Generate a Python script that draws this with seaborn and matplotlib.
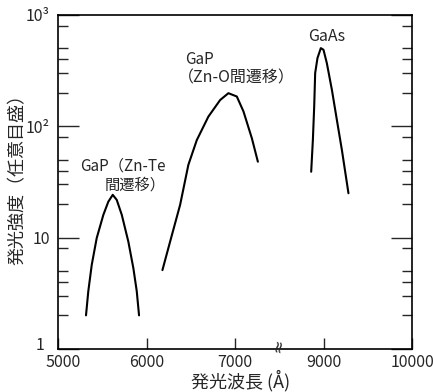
import numpy as np
import pandas as pd
import matplotlib
matplotlib.use('Agg')
import matplotlib.pyplot as plt
import matplotlib.transforms as mtransforms
from matplotlib.ticker import LogLocator, NullFormatter
import seaborn as sns

# Emission spectra: wavelength (Angstrom), intensity (arb. units)
znte_wl = [5316, 5342, 5381, 5437, 5512, 5568, 5618, 5663, 5720, 5794, 5851, 5889, 5915]
znte_int = [2.0, 3.3, 5.7, 9.9, 16.0, 21.0, 24.2, 21.8, 16.0, 9.2, 5.3, 3.3, 2.0]

zno_wl = [6179, 6266, 6379, 6472, 6567, 6698, 6831, 6924, 7019, 7094, 7189, 7257]
zno_int = [5.1, 9.2, 19.7, 45, 75, 122, 172, 198, 185, 136, 78, 48]

gaas_wl = [8859, 8878, 8893, 8904, 8930, 8968, 8998, 9036, 9093, 9149, 9206, 9280]
gaas_int = [39, 75, 150, 300, 409, 503, 486, 368, 212, 114, 61, 25]

xtick_wl = [5000, 6000, 7000, 9000, 10000]
xtick_labels = ['5000', '6000', '7000', '9000', '10000']
ytick_vals = [1, 10, 100, 1000]
ytick_labels = ['1', '10', '10²', '10³']

BREAK_GAP = 1000  # 7500-8500 A is cut out of the axis


def axis_pos(wl):
    """Position on the broken wavelength axis"""
    wl = np.asarray(wl, dtype=float)
    return np.where(wl > 8000, wl - BREAK_GAP, wl)


def build_df():
    frames = []
    for name, wl, inten in [('znte', znte_wl, znte_int),
                            ('zno', zno_wl, zno_int),
                            ('gaas', gaas_wl, gaas_int)]:
        frames.append(pd.DataFrame({'pos': axis_pos(wl), 'intensity': inten,
                                    'series': name}))
    return pd.concat(frames, ignore_index=True)


def main():
    sns.set_style('ticks')
    plt.rcParams['font.family'] = ['Noto Sans CJK JP', 'DejaVu Sans']

    df = build_df()

    fig = plt.figure(figsize=(4.33, 3.92), dpi=100)
    ax = fig.add_axes([0.134, 0.110, 0.818, 0.852])

    sns.lineplot(data=df, x='pos', y='intensity', hue='series',
                 palette=['black'] * 3, legend=False, sort=False,
                 estimator=None, linewidth=1.5, ax=ax)

    ax.set_yscale('log')
    ax.set_ylim(1, 1000)
    ax.set_xlim(5000, 9000)

    # ticks
    ax.set_xticks(axis_pos(xtick_wl))
    ax.set_xticklabels(xtick_labels)
    ax.set_yticks(ytick_vals)
    ax.set_yticklabels(ytick_labels)
    ax.yaxis.set_minor_locator(LogLocator(subs=[2, 3, 4, 5, 8]))
    ax.yaxis.set_minor_formatter(NullFormatter())
    ax.tick_params(axis='x', which='major', direction='in', length=8,
                   width=1.0, labelsize=11.5, pad=4, top=False)
    ax.tick_params(axis='x', which='minor', bottom=False, top=False)
    ax.tick_params(axis='y', which='major', direction='in', length=15,
                   width=1.0, labelsize=11.5, pad=6, right=True)
    ax.tick_params(axis='y', which='minor', direction='in', length=7,
                   width=1.0, right=True)

    # nudge the corner labels apart
    lbl = ax.get_xticklabels()[0]
    lbl.set_transform(lbl.get_transform() + mtransforms.ScaledTranslation(
        4 / 72, 0, fig.dpi_scale_trans))
    lbl = ax.get_yticklabels()[0]
    lbl.set_transform(lbl.get_transform() + mtransforms.ScaledTranslation(
        -4 / 72, 4 / 72, fig.dpi_scale_trans))

    for s in ax.spines.values():
        s.set_linewidth(1.2)
        s.set_color('black')

    # break mark on the wavelength axis
    ax.text(7480, 1.06, '≈', rotation=80, ha='center', va='center',
            fontsize=12, family='DejaVu Sans', clip_on=False)

    # annotations
    ax.text(6220, 36, 'GaP（Zn-Te\n間遷移）', ha='right', va='center',
            multialignment='right', fontsize=11, linespacing=1.15)
    ax.text(6435, 395, 'GaP', ha='left', va='center', fontsize=11)
    ax.text(6350, 272, '（Zn-O間遷移）', ha='left', va='center', fontsize=11.5)
    ax.text(8035, 640, 'GaAs', ha='center', va='center', fontsize=11.5)

    ax.set_xlabel('発光波長 (Å)', fontsize=13)
    ax.set_ylabel('発光強度（任意目盛）', fontsize=13)
    ax.xaxis.set_label_coords(0.514, -0.064)
    ax.yaxis.set_label_coords(-0.088, 0.52)

    fig.savefig('out.png', dpi=100)


if __name__ == "__main__":
    main()
